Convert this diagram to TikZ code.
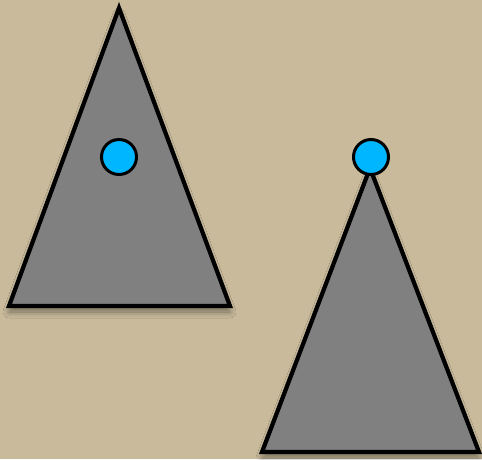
\documentclass[tikz,border=0pt]{standalone}
\usetikzlibrary{shadows.blur}
\definecolor{bg}{HTML}{C8BA9B}
\definecolor{tri}{HTML}{808080}
\definecolor{dot}{HTML}{00B6FF}
\begin{document}
\begin{tikzpicture}[x=1pt,y=-1pt,
  trianglestyle/.style={draw=black,fill=tri,line width=4.2pt,line join=miter,
    blur shadow={shadow xshift=0pt,shadow yshift=-6pt,shadow blur steps=10,shadow blur radius=6pt,shadow opacity=40}},
  dotstyle/.style={circle,draw=black,fill=dot,line width=3pt,minimum size=35pt,inner sep=0pt}]
\fill[bg] (0,0) rectangle (482,459);
\useasboundingbox (0,0) rectangle (482,459);
\draw[trianglestyle] (119,8) -- (230,306) -- (9,306) -- cycle;
\draw[trianglestyle] (370,168) -- (479,452) -- (262,452) -- cycle;
\node[dotstyle] (d1) at (119,157) {};
\node[dotstyle] (d2) at (371,157) {};
\end{tikzpicture}
\end{document}
